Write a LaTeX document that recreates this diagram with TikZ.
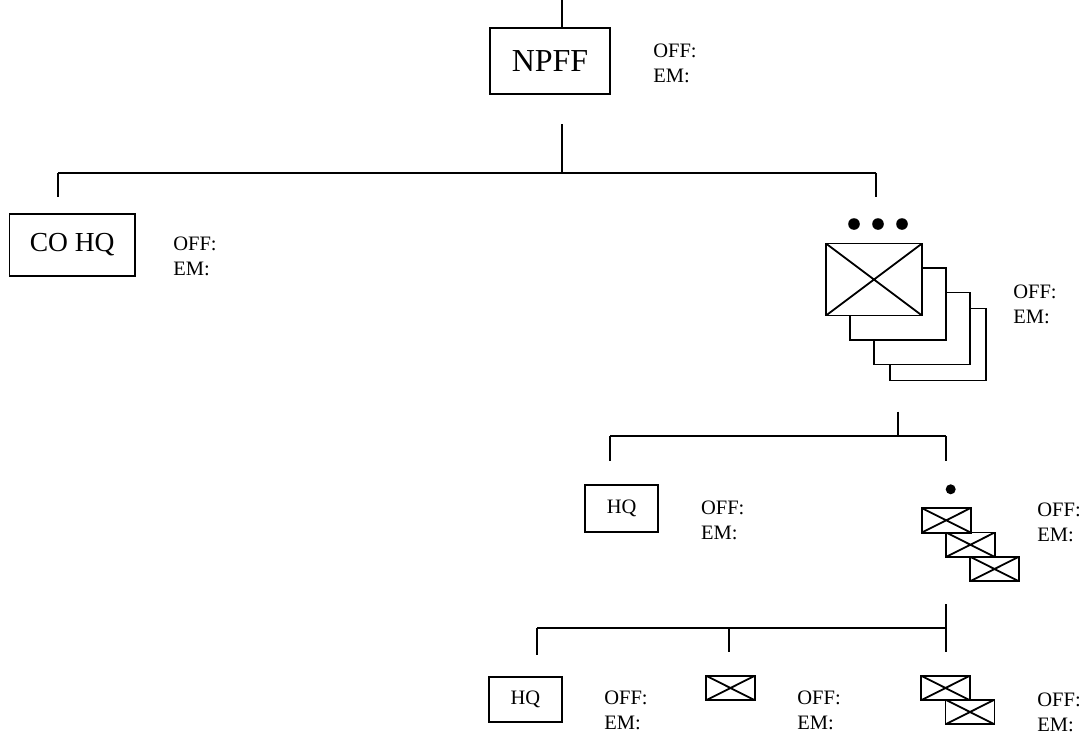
\documentclass[tikz,border=0pt]{standalone}
\usepackage{fontspec}
\setmainfont{Liberation Serif}

\begin{document}
\begin{tikzpicture}[x=0.5pt,y=-0.5pt,
  unit/.style={draw,fill=white,line width=0.9pt,inner sep=0pt,outer sep=0pt},
  crossed/.style={path picture={\draw[line width=0.9pt] (path picture bounding box.north west) -- (path picture bounding box.south east)
      (path picture bounding box.north east) -- (path picture bounding box.south west);}},
  hqbox/.style={unit,minimum width=36.6pt,minimum height=23.6pt,font=\fontsize{10.25}{12}\selectfont},
  plbox/.style={unit,minimum width=48pt,minimum height=36pt},
  sqbox/.style={unit,crossed,minimum width=24.5pt,minimum height=12.3pt},
  strength/.style={anchor=west,align=left,inner sep=0pt,font=\fontsize{10.25}{12.5}\selectfont},
  bus/.style={line width=0.9pt}]
  \useasboundingbox (0,0) rectangle (1084,734);
  % Battalion
  \coordinate (sup) at (562,0);
  \node[unit,minimum width=60pt,minimum height=33pt,font=\fontsize{16}{19}\selectfont] (npff) at (550,61.2) {NPFF};
  \node[strength] (npffstr) at (653,63) {OFF:\\EM:};
  \draw[bus] (sup) -- (sup |- npff.north);
  % Bus to companies
  \coordinate (busa) at (562,124.3);
  \coordinate (busaj) at (562,172.7);
  \coordinate (busal) at (58,172.7);
  \coordinate (busar) at (876,172.7);
  \coordinate (busald) at (58,196.7);
  \coordinate (busard) at (876,197);
  \draw[bus] (busa) -- (busaj);
  \draw[bus] (busal) -- (busar);
  \draw[bus] (busal) -- (busald);
  \draw[bus] (busar) -- (busard);
  % Company HQ
  \node[unit,minimum width=62.8pt,minimum height=30.8pt,font=\fontsize{13.75}{16}\selectfont] (cohq) at (72.2,245) {CO HQ};
  \node[strength] (cohqstr) at (173,256.5) {OFF:\\EM:};
  % Platoons (stacked)
  \node[plbox] (pld) at (938,344.5) {};
  \node[plbox] (plc) at (922,328.5) {};
  \node[plbox] (plb) at (898,304) {};
  \node[plbox,crossed] (pla) at (874,279.5) {};
  \foreach \x in {854,878,902}
    \fill (\x,224) circle (2.9pt);
  \node[strength] (plstr) at (1013,304) {OFF:\\EM:};
  % Bus to platoon elements
  \coordinate (busb) at (898,411.7);
  \coordinate (busbj) at (898,436);
  \coordinate (busbl) at (610,436);
  \coordinate (busbr) at (946,436);
  \coordinate (busbld) at (610,461);
  \coordinate (busbrd) at (946,461);
  \draw[bus] (busb) -- (busbj);
  \draw[bus] (busbl) -- (busbr);
  \draw[bus] (busbl) -- (busbld);
  \draw[bus] (busbr) -- (busbrd);
  % Platoon HQ
  \node[hqbox] (plhq) at (621.7,508.2) {HQ};
  \node[strength] (plhqstr) at (700.7,520.5) {OFF:\\EM:};
  % Sections (stacked)
  \fill (950.7,489.3) circle (2.5pt);
  \node[sqbox] (sec) at (994.5,569) {};
  \node[sqbox] (secb) at (970.4,544.7) {};
  \node[sqbox] (seca) at (946.2,520.3) {};
  \node[strength] (secstr) at (1037,522) {OFF:\\EM:};
  % Bus to section elements
  \coordinate (busc) at (946,604);
  \coordinate (buscr) at (946,652.3);
  \coordinate (buscl) at (537.3,628.3);
  \coordinate (buscj) at (946,628.3);
  \coordinate (buscm) at (729.3,628.3);
  \coordinate (buscld) at (537.3,655);
  \coordinate (buscmd) at (729.3,652.3);
  \draw[bus] (busc) -- (buscr);
  \draw[bus] (buscl) -- (buscj);
  \draw[bus] (buscl) -- (buscld);
  \draw[bus] (buscm) -- (buscmd);
  % Section HQ
  \node[hqbox,minimum height=22.8pt] (sechq) at (525.5,699.5) {HQ};
  \node[strength] (sechqstr) at (604,710) {OFF:\\EM:};
  % Squad
  \node[sqbox] (sqd) at (730.5,688) {};
  \node[strength] (sqdstr) at (797,710) {OFF:\\EM:};
  % Squads (pair)
  \node[sqbox] (sqbb) at (970,712) {};
  \node[sqbox] (sqba) at (945.5,688) {};
  \node[strength] (sqbstr) at (1037,712.5) {OFF:\\EM:};
\end{tikzpicture}
\end{document}
